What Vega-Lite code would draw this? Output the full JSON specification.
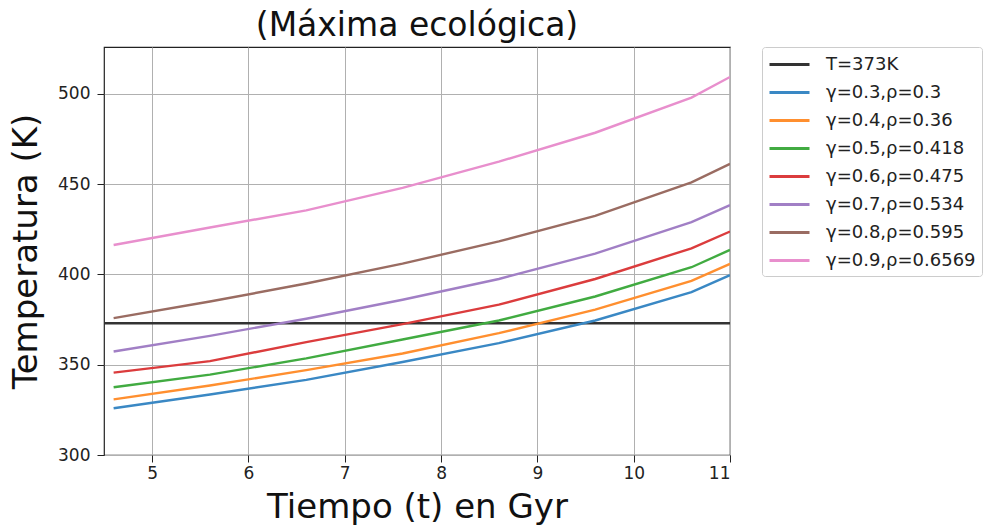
{
  "$schema": "https://vega.github.io/schema/vega-lite/v6.json",
  "width": 626,
  "height": 408,
  "autosize": {"type": "none"},
  "padding": {"left": 104, "top": 47, "right": 257, "bottom": 72},
  "background": "white",
  "config": {
    "font": "DejaVu Sans",
    "view": {"stroke": "#222", "strokeWidth": 1.2},
    "axis": {
      "grid": true, "gridColor": "#b0b0b0", "gridWidth": 1,
      "domain": false, "tickColor": "#222", "tickSize": 7,
      "labelFont": "DejaVu Sans", "labelFontSize": 17, "labelColor": "#222",
      "titleFont": "DejaVu Sans", "titleFontWeight": "normal", "titleColor": "#111"
    }
  },
  "title": {"text": "(Máxima ecológica)", "fontSize": 33, "fontWeight": "normal", "font": "DejaVu Sans", "color": "#111", "offset": 4},
  "data": {"values": [
    {"t": 4.5, "T": 373, "s": "T=373K"}, {"t": 11, "T": 373, "s": "T=373K"},
    {"t": 4.6, "T": 325.9, "s": "γ=0.3,ρ=0.3"}, {"t": 5.6, "T": 333.5, "s": "γ=0.3,ρ=0.3"}, {"t": 6.6, "T": 341.6, "s": "γ=0.3,ρ=0.3"}, {"t": 7.6, "T": 351.5, "s": "γ=0.3,ρ=0.3"}, {"t": 8.6, "T": 362.0, "s": "γ=0.3,ρ=0.3"}, {"t": 9.6, "T": 374.5, "s": "γ=0.3,ρ=0.3"}, {"t": 10.6, "T": 390.2, "s": "γ=0.3,ρ=0.3"}, {"t": 11, "T": 399.6, "s": "γ=0.3,ρ=0.3"},
    {"t": 4.6, "T": 330.8, "s": "γ=0.4,ρ=0.36"}, {"t": 5.6, "T": 338.5, "s": "γ=0.4,ρ=0.36"}, {"t": 6.6, "T": 347.0, "s": "γ=0.4,ρ=0.36"}, {"t": 7.6, "T": 356.2, "s": "γ=0.4,ρ=0.36"}, {"t": 8.6, "T": 367.5, "s": "γ=0.4,ρ=0.36"}, {"t": 9.6, "T": 380.5, "s": "γ=0.4,ρ=0.36"}, {"t": 10.6, "T": 396.5, "s": "γ=0.4,ρ=0.36"}, {"t": 11, "T": 405.9, "s": "γ=0.4,ρ=0.36"},
    {"t": 4.6, "T": 337.5, "s": "γ=0.5,ρ=0.418"}, {"t": 5.6, "T": 344.5, "s": "γ=0.5,ρ=0.418"}, {"t": 6.6, "T": 353.5, "s": "γ=0.5,ρ=0.418"}, {"t": 7.6, "T": 364.0, "s": "γ=0.5,ρ=0.418"}, {"t": 8.6, "T": 374.5, "s": "γ=0.5,ρ=0.418"}, {"t": 9.6, "T": 387.8, "s": "γ=0.5,ρ=0.418"}, {"t": 10.6, "T": 404.0, "s": "γ=0.5,ρ=0.418"}, {"t": 11, "T": 413.6, "s": "γ=0.5,ρ=0.418"},
    {"t": 4.6, "T": 345.6, "s": "γ=0.6,ρ=0.475"}, {"t": 5.6, "T": 352.0, "s": "γ=0.6,ρ=0.475"}, {"t": 6.6, "T": 362.5, "s": "γ=0.6,ρ=0.475"}, {"t": 7.6, "T": 372.5, "s": "γ=0.6,ρ=0.475"}, {"t": 8.6, "T": 383.3, "s": "γ=0.6,ρ=0.475"}, {"t": 9.6, "T": 397.5, "s": "γ=0.6,ρ=0.475"}, {"t": 10.6, "T": 414.5, "s": "γ=0.6,ρ=0.475"}, {"t": 11, "T": 423.8, "s": "γ=0.6,ρ=0.475"},
    {"t": 4.6, "T": 357.3, "s": "γ=0.7,ρ=0.534"}, {"t": 5.6, "T": 366.0, "s": "γ=0.7,ρ=0.534"}, {"t": 6.6, "T": 375.5, "s": "γ=0.7,ρ=0.534"}, {"t": 7.6, "T": 386.0, "s": "γ=0.7,ρ=0.534"}, {"t": 8.6, "T": 397.5, "s": "γ=0.7,ρ=0.534"}, {"t": 9.6, "T": 411.5, "s": "γ=0.7,ρ=0.534"}, {"t": 10.6, "T": 429.0, "s": "γ=0.7,ρ=0.534"}, {"t": 11, "T": 438.4, "s": "γ=0.7,ρ=0.534"},
    {"t": 4.6, "T": 375.8, "s": "γ=0.8,ρ=0.595"}, {"t": 5.6, "T": 385.0, "s": "γ=0.8,ρ=0.595"}, {"t": 6.6, "T": 395.0, "s": "γ=0.8,ρ=0.595"}, {"t": 7.6, "T": 406.0, "s": "γ=0.8,ρ=0.595"}, {"t": 8.6, "T": 418.3, "s": "γ=0.8,ρ=0.595"}, {"t": 9.6, "T": 432.5, "s": "γ=0.8,ρ=0.595"}, {"t": 10.6, "T": 451.0, "s": "γ=0.8,ρ=0.595"}, {"t": 11, "T": 461.3, "s": "γ=0.8,ρ=0.595"},
    {"t": 4.6, "T": 416.3, "s": " γ=0.9,ρ=0.6569"}, {"t": 5.6, "T": 426.0, "s": " γ=0.9,ρ=0.6569"}, {"t": 6.6, "T": 435.5, "s": " γ=0.9,ρ=0.6569"}, {"t": 7.6, "T": 448.0, "s": " γ=0.9,ρ=0.6569"}, {"t": 8.6, "T": 462.5, "s": " γ=0.9,ρ=0.6569"}, {"t": 9.6, "T": 478.5, "s": " γ=0.9,ρ=0.6569"}, {"t": 10.6, "T": 498.0, "s": " γ=0.9,ρ=0.6569"}, {"t": 11, "T": 509.4, "s": " γ=0.9,ρ=0.6569"}
  ]},
  "mark": {"type": "line", "strokeWidth": 2.4, "clip": true},
  "encoding": {
    "x": {"field": "t", "type": "quantitative", "title": "Tiempo (t) en Gyr",
      "scale": {"domain": [4.5, 11], "nice": false, "zero": false},
      "axis": {"values": [5, 6, 7, 8, 9, 10, 11], "titleFontSize": 34, "titlePadding": 9, "labelPadding": 3}},
    "y": {"field": "T", "type": "quantitative", "title": "Temperatura (K)",
      "scale": {"domain": [300, 526], "nice": false, "zero": false},
      "axis": {"values": [300, 350, 400, 450, 500], "titleFontSize": 34, "titlePadding": 14, "labelPadding": 7}},
    "color": {"field": "s", "type": "nominal", "sort": null,
      "scale": {
        "domain": ["T=373K", "γ=0.3,ρ=0.3", "γ=0.4,ρ=0.36", "γ=0.5,ρ=0.418", "γ=0.6,ρ=0.475", "γ=0.7,ρ=0.534", "γ=0.8,ρ=0.595", " γ=0.9,ρ=0.6569"],
        "range": ["#333333", "#3a88c4", "#ff8f2f", "#41ab41", "#db3c3d", "#a17fc5", "#9a6c62", "#e88fcd"]
      },
      "legend": {
        "title": null, "orient": "none", "legendX": 658, "legendY": 0,
        "symbolType": "M-1,0H3", "symbolSize": 400, "symbolStrokeWidth": 3,
        "labelFontSize": 18, "labelFont": "DejaVu Sans", "labelColor": "#222", "labelOffset": 35,
        "rowPadding": 7, "padding": 6, "strokeColor": "#cccccc", "fillColor": "white", "cornerRadius": 3
      }
    },
    "strokeWidth": {"condition": {"test": "datum.s === 'T=373K'", "value": 2.8}, "value": 2.4}
  }
}
